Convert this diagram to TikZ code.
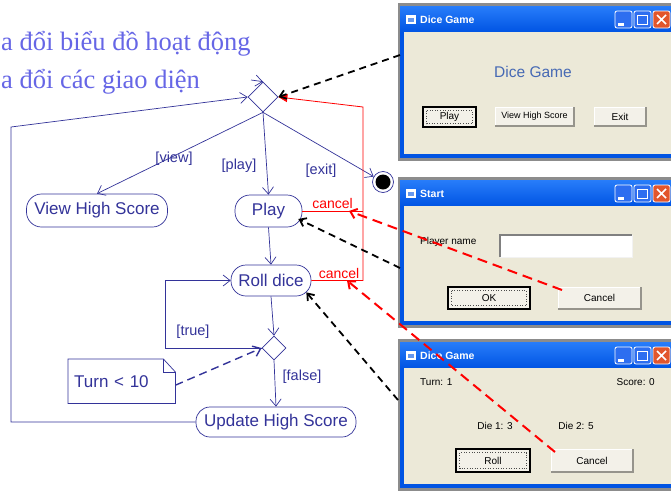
\documentclass[tikz,border=0pt]{standalone}
\usepackage{fontspec}
\setmainfont{Liberation Sans}
\newfontfamily\headfont{Liberation Serif}
\usetikzlibrary{arrows.meta,shapes.geometric,calc}
\definecolor{navy}{RGB}{51,51,153}
\definecolor{headblue}{RGB}{102,102,230}
\definecolor{xpblue}{RGB}{0,84,227}
\definecolor{xptop}{RGB}{40,125,250}
\definecolor{tbblue}{RGB}{45,110,240}
\definecolor{tbred}{RGB}{226,86,44}
\definecolor{beige}{RGB}{236,233,216}
\definecolor{btnface}{RGB}{243,241,233}
\definecolor{btnshadow}{RGB}{150,148,140}
\definecolor{wingray}{RGB}{140,140,140}
\definecolor{dgblue}{RGB}{70,105,180}
\newcommand\actfont{\fontsize{17}{20}\selectfont}
\newcommand\lblfont{\fontsize{14.5}{17}\selectfont}
\newcommand\winfont{\fontsize{10}{12}\selectfont}
\newcommand\titlefont{\bfseries\fontsize{10.5}{12}\selectfont}
\tikzset{
  act/.style={draw=navy, line width=0.7pt, rectangle, rounded corners=15pt, text=navy, font=\actfont, minimum height=32pt, inner sep=0pt},
  lbl/.style={text=navy, font=\lblfont, inner sep=0pt},
  redlbl/.style={text=red, font=\fontsize{14}{16}\selectfont, inner sep=0pt},
  flow/.style={draw=navy, line width=0.7pt, -{Straight Barb[length=7pt,width=11pt]}},
  plainflow/.style={draw=navy, line width=0.7pt},
  redline/.style={draw=red, line width=0.8pt},
  bdash/.style={draw=black, line width=1.8pt, dash pattern=on 7pt off 5pt, -{Straight Barb[length=6pt,width=9pt]}},
  rdash/.style={draw=red, line width=2pt, dash pattern=on 10pt off 6pt, -{Straight Barb[length=6pt,width=10pt]}},
  wintxt/.style={font=\winfont, inner sep=0pt, text=black},
}
% window: top, bottom, title, name
\newcommand\xpwin[4]{%
  \fill[wingray] (398,{#1-3}) rectangle (680,{#2+3});
  \fill[xpblue] (400,#1) rectangle (680,#2);
  \shade[top color=xptop, bottom color=xpblue] (400,#1) rectangle (680,{#1+26});
  \fill[beige] (404,{#1+26}) rectangle (680,{#2-4});
  \fill[white] (406,{#1+9}) rectangle (416,{#1+18});
  \fill[xpblue!60] (408,{#1+12}) rectangle (414,{#1+16});
  \node[anchor=west, text=white, font=\titlefont, inner sep=0pt] (#4) at (420,{#1+14}) {#3};
  \draw[white, line width=0.8pt, fill=tbblue, rounded corners=2pt] (615,{#1+5}) rectangle (632,{#1+22});
  \fill[white] (618,{#1+17}) rectangle (624,{#1+19.5});
  \draw[white, line width=0.8pt, fill=tbblue, rounded corners=2pt] (634,{#1+5}) rectangle (651,{#1+22});
  \draw[white, line width=0.9pt] (637.5,{#1+9}) rectangle (647.5,{#1+18});
  \draw[white, line width=1.8pt] (637.5,{#1+9.5}) -- (647.5,{#1+9.5});
  \draw[white, line width=0.8pt, fill=tbred, rounded corners=2pt] (653,{#1+5}) rectangle (670,{#1+22});
  \draw[white, line width=1.6pt] (657,{#1+9}) -- (666,{#1+18}) (666,{#1+9}) -- (657,{#1+18});
}
% button: name, x1, y1, x2, y2, label
\newcommand\xpbtn[6]{%
  \fill[btnface] (#2,#3) rectangle (#4,#5);
  \draw[white, line width=1pt] (#2,#5) -- (#2,#3) -- (#4,#3);
  \draw[btnshadow, line width=1.2pt] (#2,#5) -- (#4,#5) -- (#4,#3);
  \node[wintxt] (#1) at ({(#2+#4)/2},{(#3+#5)/2}) {#6};
}
\newcommand\xpbtnf[6]{%
  \fill[btnface] (#2,#3) rectangle (#4,#5);
  \draw[black, line width=1.2pt] (#2,#3) rectangle (#4,#5);
  \draw[black!70, line width=0.6pt, dotted] ({#2+3.5},{#3+3.5}) rectangle ({#4-3.5},{#5-3.5});
  \node[wintxt] (#1) at ({(#2+#4)/2},{(#3+#5)/2}) {#6};
}
\begin{document}
\begin{tikzpicture}[x=1pt,y=-1pt]
\path[use as bounding box] (0,0) rectangle (671,490);
\clip (0,0) rectangle (671,490);
\fill[white] (0,0) rectangle (671,490);

% ---------- windows ----------
\xpwin{6}{158}{Dice Game}{t1}
\node[text=dgblue, font=\fontsize{15.5}{18}\selectfont, inner sep=0pt] (w1head) at (533,72) {Dice Game};
\xpbtnf{b11}{423}{107}{476}{127}{Play}
\xpbtn{b12}{495}{107}{574}{126}{\fontsize{9}{11}\selectfont View High Score}
\xpbtn{b13}{594}{107}{646}{126}{Exit}

\xpwin{180}{325}{Start}{t2}
\node[wintxt, anchor=west] (pname) at (420,242) {Player name};
\fill[white] (500,235) rectangle (632,257);
\draw[gray, line width=1.2pt] (500,257) -- (500,235) -- (632,235);
\draw[white!90!gray, line width=1pt] (500,257) -- (632,257) -- (632,235);
\xpbtnf{b21}{448}{287}{530}{309}{OK}
\xpbtn{b22}{558}{287}{641}{309}{Cancel}

\xpwin{342}{488}{Dice Game}{t3}
\node[wintxt, anchor=west] (turn) at (420,382) {Turn: 1};
\node[wintxt, anchor=east] (score) at (655,382) {Score: 0};
\node[wintxt] (die1) at (495,426) {Die 1: 3};
\node[wintxt] (die2) at (576,426) {Die 2: 5};
\xpbtnf{b31}{456}{449}{530}{472}{Roll}
\xpbtn{b32}{551}{449}{633}{472}{Cancel}

% ---------- heading ----------
\node[anchor=base west, inner sep=0pt, text=headblue, font=\headfont\fontsize{26.5}{30}\selectfont] (h1) at (1,50) {a đổi biểu đồ hoạt động};
\node[anchor=base west, inner sep=0pt, text=headblue, font=\headfont\fontsize{26.5}{30}\selectfont] (h2) at (1,88) {a đổi các giao diện};

% ---------- activity diagram ----------
\node[diamond, draw=navy, line width=0.7pt, minimum width=30pt, minimum height=30pt, inner sep=0pt] (dec1) at (263,97) {};
\node[diamond, draw=navy, line width=0.7pt, minimum width=24pt, minimum height=24pt, inner sep=0pt] (dec2) at (274,348) {};
\node[act, minimum width=141pt, minimum height=33pt] (vhs) at (97,210.5) {View High Score};
\node[act, minimum width=67pt] (play) at (268.5,211) {Play};
\node[act, minimum width=80pt, minimum height=31pt] (roll) at (271,280.5) {Roll dice};
\node[act, minimum width=160pt, minimum height=30pt, rounded corners=14pt] (upd) at (276,422) {Update High Score};
\node[circle, draw=navy, line width=0.7pt, minimum size=21pt, inner sep=0pt] (fin) at (383,182) {};
\fill[black] (fin.center) circle (7.5pt);

% note
\node[anchor=north west, minimum width=107pt, minimum height=44pt, text width=95pt, inner xsep=6pt, inner ysep=0pt, align=left, text=navy, font=\actfont] (note) at (68,359) {Turn < 10};
\draw[navy, line width=0.7pt] (note.north west) -- ($(note.north east)+(-12,0)$) -- ($(note.north east)+(0,13)$) -- (note.south east) -- (note.south west) -- cycle;
\draw[navy, line width=0.7pt] ($(note.north east)+(-12,0)$) -- ($(note.north east)+(-12,13)$) -- ($(note.north east)+(0,13)$);

% labels
\node[lbl] (lview) at (174,159) {[view]};
\node[lbl] (lplay) at (239,166) {[play]};
\node[lbl] (lexit) at (321,171) {[exit]};
\node[lbl] (ltrue) at (193,332) {[true]};
\node[lbl] (lfalse) at (302,377) {[false]};
\node[redlbl] (cl1) at (332.5,203) {cancel};
\node[redlbl] (cl2) at (339,273) {cancel};

% coordinates
\coordinate (ini) at (251,80);
\coordinate (lp) at (165,348);
\coordinate (bl) at (11,422);
\coordinate (tl) at (11,127);
\coordinate (rc1) at (363,211);
\coordinate (rc2) at (363,280.5);
\coordinate (rc3) at (363,107);
\coordinate (w1a) at (400,55);
\coordinate (w2a) at (400,268);
\coordinate (w3a) at (398,400);
\coordinate (rt1) at (349,211);
\coordinate (rt2) at (347,280.5);
\coordinate (c2s) at (562,290);
\coordinate (c3s) at (555,452);

% flows
\draw[flow] (ini) -- (dec1.north);
\draw[flow] (dec1.south) -- (vhs.north);
\draw[flow] (dec1.south) -- (play.north);
\draw[flow] (dec1.south) -- (fin);
\draw[flow] (play.south) -- (roll.north);
\draw[flow] (roll.south) -- (dec2.north);
\draw[flow] (dec2.west) -- (lp) |- (roll.west);
\draw[flow] (dec2.south) -- (upd.north);
\draw[flow] (upd.west) -- (bl) -- (tl) -- (dec1.west);
\draw[navy, line width=1.4pt, dash pattern=on 8pt off 5pt, -{Straight Barb[length=7pt,width=11pt]}] ($(note.east)+(0,4)$) -- (dec2.west);

% red cancel flows
\draw[redline] (play.east) -- (rc1);
\draw[redline, -{Triangle[length=9pt,width=8pt]}] (roll.east) -- (rc2) -- (rc3) -- (dec1.east);

% black dashed links
\draw[bdash] (w1a) -- (dec1.east);
\draw[bdash] (w2a) -- ($(play.east)+(-4,8)$);
\draw[bdash] (w3a) -- ($(roll.south east)+(-5,-4)$);

% red dashed links
\draw[rdash] (c2s) -- (rt1);
\draw[rdash] (c3s) -- (rt2);
\end{tikzpicture}
\end{document}
